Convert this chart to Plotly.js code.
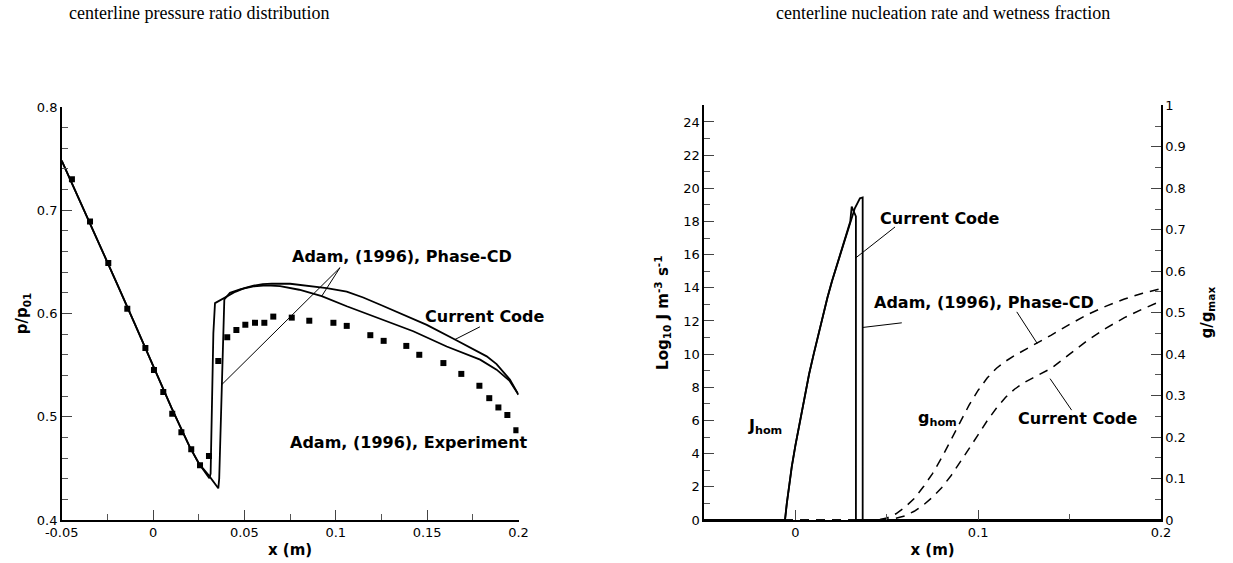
<!DOCTYPE html>
<html>
<head>
<meta charset="utf-8">
<script src="https://cdn.plot.ly/plotly-3.0.1.min.js"></script>
<style>
html,body{margin:0;padding:0;background:#fff;}
#chart{width:1233px;height:563px;}
</style>
</head>
<body>
<div id="chart"></div>
<script>
// ---------- Left panel: centerline pressure ratio ----------
const pCurrentX = [-0.05,-0.04,-0.03,-0.02,-0.01,0,0.005,0.01,0.015,0.02,0.025,0.0308,0.0315,0.033,0.0339,0.0394,0.045,0.05,0.055,0.06,0.065,0.075,0.085,0.095,0.106,0.115,0.125,0.135,0.1498,0.1652,0.175,0.1826,0.188,0.1953,0.2];
const pCurrentY = [0.748,0.709,0.670,0.630,0.590,0.549,0.529,0.509,0.490,0.471,0.455,0.4405,0.445,0.581,0.610,0.6155,0.621,0.6245,0.627,0.6285,0.629,0.6288,0.627,0.6245,0.6212,0.6155,0.608,0.6005,0.589,0.5748,0.566,0.5585,0.551,0.536,0.5214];

const pPhaseX = [-0.05,-0.04,-0.03,-0.02,-0.01,0,0.005,0.01,0.015,0.02,0.025,0.0308,0.0357,0.0362,0.039,0.0421,0.048,0.055,0.062,0.0695,0.08,0.0923,0.106,0.12,0.1424,0.1607,0.17,0.179,0.188,0.195,0.2];
const pPhaseY = [0.748,0.709,0.670,0.630,0.590,0.549,0.529,0.509,0.490,0.471,0.455,0.4425,0.4307,0.44,0.6136,0.620,0.6235,0.6262,0.6272,0.6265,0.623,0.6168,0.607,0.5975,0.5828,0.568,0.5615,0.5553,0.5456,0.535,0.5214];

const expX = [-0.0444,-0.0345,-0.0245,-0.0141,-0.0042,0.0005,0.0056,0.0105,0.0155,0.0209,0.0257,0.0306,0.0357,0.0406,0.0456,0.0505,0.0558,0.0609,0.0658,0.0759,0.0855,0.0987,0.106,0.1189,0.1262,0.1386,0.1457,0.1589,0.1687,0.1786,0.184,0.189,0.1939,0.1988];
const expY = [0.730,0.689,0.649,0.6046,0.5667,0.5453,0.524,0.503,0.485,0.4686,0.453,0.462,0.554,0.577,0.584,0.589,0.591,0.591,0.597,0.596,0.593,0.591,0.588,0.579,0.5735,0.5686,0.560,0.552,0.5415,0.530,0.518,0.509,0.5017,0.487];

const leftXTicks = [-0.05,0,0.05,0.1,0.15,0.2];
const leftXTickText = ['-0.05','0','0.05','0.1','0.15','0.2'];
const leftYTicks = [0.4,0.5,0.6,0.7,0.8];
const leftYTickText = ['0.4','0.5','0.6','0.7','0.8'];

// ---------- Right panel: nucleation rate and wetness ----------
const jCurrentX = [-0.05,-0.0057,-0.0047,-0.0035,-0.002,0,0.0025,0.005,0.0075,0.01,0.0125,0.015,0.0175,0.02,0.0225,0.025,0.0275,0.03,0.0308,0.0331,0.0331,0.2];
const jCurrentY = [0,0,1.0,2.1,3.2,4.5,6.0,7.4,8.8,10.0,11.2,12.3,13.4,14.4,15.3,16.2,17.1,18.0,18.9,18.3,0,0];

const jPhaseX = [-0.05,-0.0057,-0.0047,-0.0035,-0.002,0,0.0025,0.005,0.0075,0.01,0.0125,0.015,0.0175,0.02,0.0225,0.025,0.0275,0.03,0.0325,0.0353,0.0368,0.0368,0.2];
const jPhaseY = [0,0,1.0,2.1,3.2,4.5,6.0,7.4,8.8,10.0,11.2,12.3,13.4,14.4,15.3,16.2,17.1,18.0,18.8,19.4,19.45,0,0];

const gPhaseX = [-0.05,0.045,0.05,0.055,0.06,0.065,0.07,0.075,0.08,0.085,0.09,0.095,0.10,0.105,0.11,0.115,0.12,0.13,0.14,0.15,0.16,0.17,0.18,0.19,0.2];
const gPhaseY = [0,0,0.005,0.015,0.031,0.052,0.08,0.112,0.150,0.192,0.236,0.277,0.313,0.343,0.366,0.383,0.397,0.421,0.446,0.472,0.496,0.516,0.533,0.547,0.558];

const gCurrentX = [-0.05,0.045,0.055,0.06,0.065,0.07,0.075,0.08,0.085,0.09,0.095,0.10,0.105,0.11,0.115,0.12,0.125,0.13,0.14,0.15,0.16,0.17,0.18,0.19,0.2];
const gCurrentY = [0,0,0.004,0.010,0.021,0.036,0.055,0.078,0.106,0.138,0.172,0.206,0.240,0.270,0.296,0.316,0.331,0.343,0.366,0.400,0.434,0.463,0.488,0.509,0.528];

const rightXTicks = [0,0.1,0.2];
const rightXTickText = ['0','0.1','0.2'];
const jTicks = [0,2,4,6,8,10,12,14,16,18,20,22,24];
const jTickText = jTicks.map(String);
const gTicks = [0,0.1,0.2,0.3,0.4,0.5,0.6,0.7,0.8,0.9,1];
const gTickText = ['0','0.1','0.2','0.3','0.4','0.5','0.6','0.7','0.8','0.9','1'];

const FONT = 'DejaVu Sans, Arial, sans-serif';
const SERIF = 'Liberation Serif, serif';
const lineStyle = {color:'#000', width:1.8};

const traces = [
  {x:pCurrentX, y:pCurrentY, xaxis:'x', yaxis:'y', mode:'lines', line:lineStyle, name:'Current Code'},
  {x:pPhaseX, y:pPhaseY, xaxis:'x', yaxis:'y', mode:'lines', line:lineStyle, name:'Adam, (1996), Phase-CD'},
  {x:expX, y:expY, xaxis:'x', yaxis:'y', mode:'markers', marker:{symbol:'square', size:6, color:'#000'}, name:'Adam, (1996), Experiment'},
  {x:jCurrentX, y:jCurrentY, xaxis:'x2', yaxis:'y2', mode:'lines', line:lineStyle, name:'J Current Code'},
  {x:jPhaseX, y:jPhaseY, xaxis:'x2', yaxis:'y2', mode:'lines', line:lineStyle, name:'J Phase-CD'},
  {x:gPhaseX, y:gPhaseY, xaxis:'x2', yaxis:'y3', mode:'lines', line:{color:'#000', width:1.5, dash:'9px,7px'}, name:'g Phase-CD'},
  {x:gCurrentX, y:gCurrentY, xaxis:'x2', yaxis:'y3', mode:'lines', line:{color:'#000', width:1.5, dash:'9px,7px'}, name:'g Current Code'}
];

function axisBase(extra){
  return Object.assign({
    showline:true, linecolor:'#000', linewidth:1.6,
    ticks:'inside', ticklen:10, tickwidth:1, tickcolor:'#444',
    showgrid:false, zeroline:false, mirror:false,
    tickfont:{family:FONT, size:13, color:'#000'},
    tickmode:'array', fixedrange:true
  }, extra);
}
function minorTicks(t0, dt){
  return {tickmode:'linear', tick0:t0, dtick:dt, ticks:'inside', ticklen:6, tickcolor:'#555', showgrid:false};
}
const titleFont = {family:FONT, size:15, color:'#000'};
const labelFont = {family:FONT, size:16, color:'#000'};

const layout = {
  width:1233, height:563,
  margin:{l:0,r:0,t:0,b:0},
  paper_bgcolor:'#fff', plot_bgcolor:'rgba(0,0,0,0)',
  showlegend:false,
  font:{family:FONT, color:'#000'},
  xaxis: axisBase({domain:[0.05004,0.42052], anchor:'y', range:[-0.05,0.2],
    tickvals:leftXTicks, ticktext:leftXTickText, minor:minorTicks(0,0.025),
    title:{text:'<b>x (m)</b>', font:titleFont, standoff:5}}),
  yaxis: axisBase({domain:[0.07638,0.80995], anchor:'x', range:[0.4,0.8],
    tickvals:leftYTicks, ticktext:leftYTickText, minor:minorTicks(0.4,0.02),
    title:{text:'<b>p/p<sub>01</sub></b>', font:titleFont, standoff:5}}),
  xaxis2: axisBase({domain:[0.57097,0.94161], anchor:'y2', range:[-0.05,0.2],
    tickvals:rightXTicks, ticktext:rightXTickText, minor:minorTicks(0,0.05),
    title:{text:'<b>x (m)</b>', font:titleFont, standoff:5}}),
  yaxis2: axisBase({domain:[0.07638,0.81279], anchor:'x2', range:[0,25],
    tickvals:jTicks, ticktext:jTickText, minor:minorTicks(0,1),
    title:{text:'<b>Log<sub>10</sub> J m<sup>-3</sup> s<sup>-1</sup></b>', font:titleFont, standoff:11}}),
  yaxis3: axisBase({overlaying:'y2', side:'right', anchor:'x2', range:[0,1],
    tickvals:gTicks, ticktext:gTickText, minor:minorTicks(0,0.05),
    title:{text:'<b>g/g<sub>max</sub></b>', font:titleFont, standoff:16}}),
  annotations: [
    {xref:'paper', yref:'paper', x:199/1233, y:1-13/563, xanchor:'center', yanchor:'middle', text:'centerline pressure ratio distribution', showarrow:false, font:{family:SERIF, size:18, color:'#000'}},
    {xref:'paper', yref:'paper', x:943/1233, y:1-13/563, xanchor:'center', yanchor:'middle', text:'centerline nucleation rate and wetness fraction', showarrow:false, font:{family:SERIF, size:18, color:'#000'}},
    {xref:'x', yref:'y', x:0.1362, y:0.6553, xanchor:'center', text:'<b>Adam, (1996), Phase-CD</b>', showarrow:false, font:labelFont},
    {xref:'x', yref:'y', x:0.1816, y:0.5974, xanchor:'center', text:'<b>Current Code</b>', showarrow:false, font:labelFont},
    {xref:'x', yref:'y', x:0.140, y:0.475, xanchor:'center', text:'<b>Adam, (1996), Experiment</b>', showarrow:false, font:labelFont},
    {xref:'x2', yref:'y2', x:0.0791, y:18.19, xanchor:'center', text:'<b>Current Code</b>', showarrow:false, font:labelFont},
    {xref:'x2', yref:'y2', x:0.1032, y:13.09, xanchor:'center', text:'<b>Adam, (1996), Phase-CD</b>', showarrow:false, font:labelFont},
    {xref:'x2', yref:'y3', x:0.1546, y:0.245, xanchor:'center', text:'<b>Current Code</b>', showarrow:false, font:labelFont},
    {xref:'x2', yref:'y2', x:-0.0167, y:5.62, xanchor:'center', text:'<b>J<sub>hom</sub></b>', showarrow:false, font:labelFont},
    {xref:'x2', yref:'y2', x:0.0775, y:6.14, xanchor:'center', text:'<b>g<sub>hom</sub></b>', showarrow:false, font:labelFont}
  ],
  shapes: [
    {type:'line', xref:'x', yref:'y', x0:0.1023, y0:0.6444, x1:0.0923, y1:0.6168, line:{color:'#000', width:1}},
    {type:'line', xref:'x', yref:'y', x0:0.1023, y0:0.6444, x1:0.0376, y1:0.5311, line:{color:'#000', width:1}},
    {type:'line', xref:'x', yref:'y', x0:0.1789, y0:0.5871, x1:0.1652, y1:0.5748, line:{color:'#000', width:1}},
    {type:'line', xref:'x2', yref:'y2', x0:0.0545, y0:17.67, x1:0.0326, y1:15.77, line:{color:'#000', width:1}},
    {type:'line', xref:'x2', yref:'y2', x0:0.0582, y0:11.89, x1:0.0368, y1:11.61, line:{color:'#000', width:1}},
    {type:'line', xref:'x2', yref:'y3', x0:0.1211, y0:0.502, x1:0.1323, y1:0.4258, line:{color:'#000', width:1}},
    {type:'line', xref:'x2', yref:'y3', x0:0.1511, y0:0.265, x1:0.1393, y1:0.341, line:{color:'#000', width:1}}
  ]
};

Plotly.newPlot('chart', traces, layout, {staticPlot:true, displayModeBar:false});
</script>
</body>
</html>
